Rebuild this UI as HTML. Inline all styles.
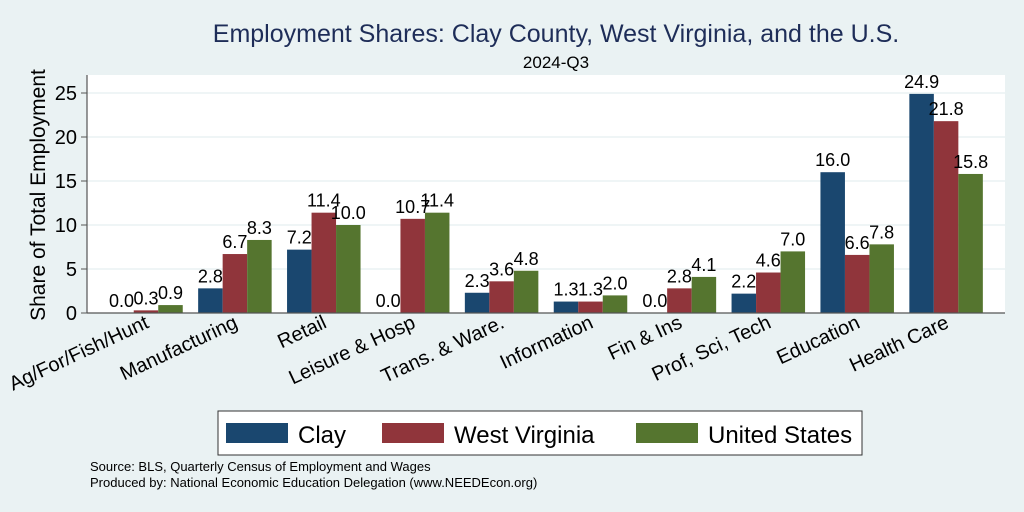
<!DOCTYPE html>
<html><head><meta charset="utf-8"><style>
body{margin:0;background:#eaf2f3;}
svg{display:block;font-family:"Liberation Sans",Arial,sans-serif;}
</style></head><body>
<svg id="chart" width="1024" height="512">
<rect width="1024" height="512" fill="#eaf2f3"/>
<rect x="87" y="75" width="918" height="238" fill="#ffffff"/>
<text x="556" y="42" text-anchor="middle" font-size="25" fill="#1e2d58">Employment Shares: Clay County, West Virginia, and the U.S.</text>
<text x="556" y="68" text-anchor="middle" font-size="17" fill="#000">2024-Q3</text>
<text transform="translate(45,195) rotate(-90)" text-anchor="middle" font-size="21" fill="#000">Share of Total Employment</text>
<g id="grid"></g><g id="bars"></g><g id="labels"></g><g id="xlabels"></g><g id="yticks"></g>
<line x1="87" y1="75" x2="87" y2="313" stroke="#555" stroke-width="1.2"/>
<line x1="87" y1="313" x2="1005" y2="313" stroke="#555" stroke-width="1.2"/>
<g>
<rect x="218" y="411" width="644" height="44" fill="#fff" stroke="#333" stroke-width="1"/>
<rect x="226" y="423" width="62" height="20" fill="#1a476f"/>
<text x="298" y="443" font-size="24">Clay</text>
<rect x="382" y="423" width="62" height="20" fill="#90353b"/>
<text x="454" y="443" font-size="24">West Virginia</text>
<rect x="636" y="423" width="62" height="20" fill="#55752f"/>
<text x="708" y="443" font-size="24">United States</text>
</g>
<text x="90" y="471" font-size="13">Source: BLS, Quarterly Census of Employment and Wages</text>
<text x="90" y="487" font-size="13">Produced by: National Economic Education Delegation (www.NEEDEcon.org)</text>
</svg>
<script>
const categories=["Ag/For/Fish/Hunt","Manufacturing","Retail","Leisure & Hosp","Trans. & Ware.","Information","Fin & Ins","Prof, Sci, Tech","Education","Health Care"];
const clay=[0.0,2.8,7.2,0.0,2.3,1.3,0.0,2.2,16.0,24.9];
const wv=[0.3,6.7,11.4,10.7,3.6,1.3,2.8,4.6,6.6,21.8];
const us=[0.9,8.3,10.0,11.4,4.8,2.0,4.1,7.0,7.8,15.8];
const yTicks=[0,5,10,15,20,25];
const NS="http://www.w3.org/2000/svg";
function y(v){return 313-v*8.8;}
function gx(i){return 146+i*88.9;}
const bw=24.5;
function mk(tag,attrs,parent){const e=document.createElementNS(NS,tag);for(const k in attrs)e.setAttribute(k,attrs[k]);document.getElementById(parent).appendChild(e);return e;}
yTicks.forEach(t=>{
 if(t>0){const g=mk('line',{x1:87,x2:1005,y1:y(t),y2:y(t),stroke:'#eaf2f3','stroke-width':1.5},'grid');
 
 }
 const tk=mk('line',{x1:81,x2:87,y1:y(t),y2:y(t),stroke:'#555'},'yticks');
 
 
 const tl=mk('text',{x:77,y:y(t)+7,'text-anchor':'end','font-size':20},'yticks');
 tl.textContent=t;
 
 
});
const series=[[clay,'#1a476f','clay'],[wv,'#90353b','wv'],[us,'#55752f','us']];
categories.forEach((c,i)=>{
 series.forEach((s,j)=>{
  const v=s[0][i];const x=gx(i)+(j-1)*bw-bw/2;
  const r=mk('rect',{x:x,y:y(v),width:bw,height:v*8.8,fill:s[1]},'bars');
  
  
  const t=mk('text',{x:x+bw/2,y:y(v)-6,'text-anchor':'middle','font-size':18},'labels');
  t.textContent=v.toFixed(1);
  
  
 });
 const l=mk('text',{transform:`translate(${gx(i)+4},${327}) rotate(-25)`,'text-anchor':'end','font-size':20},'xlabels');
 l.textContent=c;
 
 
});
</script>
</body></html>
